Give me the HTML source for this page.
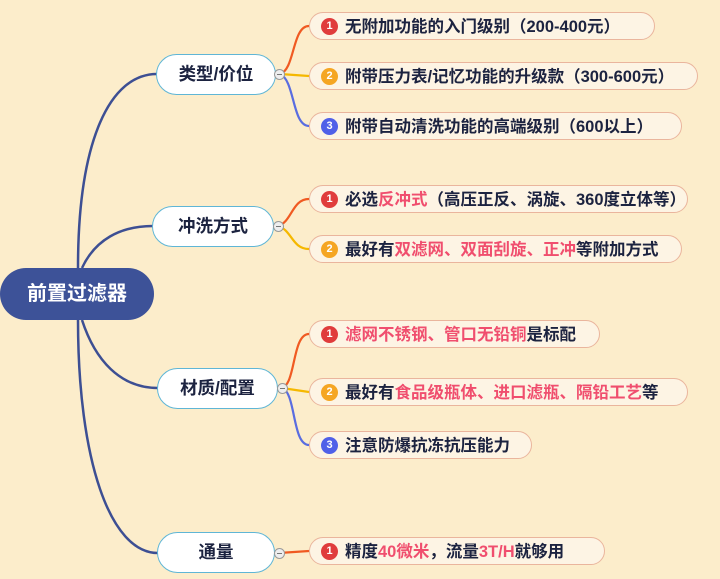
<!DOCTYPE html>
<html><head><meta charset="utf-8"><style>
body{margin:0;width:720px;height:579px;background:#fcedcb;position:relative;overflow:hidden;font-family:"Liberation Sans","Noto Sans CJK SC",sans-serif;}
.r{position:absolute;left:0;top:268px;width:154px;height:52px;background:#3d5298;border-radius:26px;color:#fff;font-size:20px;font-weight:bold;text-align:center;line-height:52px;}
.b{position:absolute;height:39px;border:1.5px solid #5fb6d6;background:#fff;border-radius:21px;color:#1c2340;font-size:17.5px;font-weight:bold;text-align:center;line-height:39px;}
.l{position:absolute;left:309px;height:28px;border:1.2px solid #eab59d;background:#fdf4e4;border-radius:14px;color:#1c2340;font-size:16.5px;font-weight:bold;line-height:28px;padding-left:35px;box-sizing:border-box;white-space:nowrap;}
.n{position:absolute;left:11px;top:5px;width:17px;height:17px;border-radius:50%;color:#fff;font-size:11px;line-height:17px;text-align:center;}
.c{position:absolute;width:9px;height:9px;border:1px solid #999;border-radius:50%;background:#eee;}
.c:after{content:"";position:absolute;left:2px;top:4px;width:5px;height:1px;background:#777;}
.p{color:#f04e6e}
</style></head><body>
<svg width="720" height="579" style="position:absolute;left:0;top:0">
<g fill="none" stroke="#3d4f93" stroke-width="2.5">
<path d="M78 268 C78 140 110 74 157 74"/>
<path d="M82 268 C95 240 120 226 153 226"/>
<path d="M82 320 C95 360 120 388 158 388"/>
<path d="M78 320 C78 460 110 553 158 553"/>
</g>
<g fill="none" stroke-width="2.2">
<path d="M280 74 C295 70 292 26 309 26" stroke="#f05a22"/>
<path d="M280 74 L309 76" stroke="#f5b800"/>
<path d="M280 74 C295 80 292 126 309 126" stroke="#5a6de0"/>
<path d="M278 226 C292 222 292 199 309 199" stroke="#f05a22"/>
<path d="M278 226 C292 230 292 249 309 249" stroke="#f5b800"/>
<path d="M282 388 C296 384 292 334 309 334" stroke="#f05a22"/>
<path d="M282 388 L309 392" stroke="#f5b800"/>
<path d="M282 388 C296 392 292 445 309 445" stroke="#5a6de0"/>
<path d="M279 553 L309 551" stroke="#f05a22"/>
</g>
</svg>
<div class="r">前置过滤器</div>
<div class="b" style="left:156px;top:54px;width:118px">类型/价位</div>
<div class="b" style="left:152px;top:206px;width:120px">冲洗方式</div>
<div class="b" style="left:157px;top:368px;width:119px">材质/配置</div>
<div class="b" style="left:157px;top:532px;width:116px">通量</div>
<div class="c" style="left:274px;top:69px"></div>
<div class="c" style="left:273px;top:221px"></div>
<div class="c" style="left:277px;top:383px"></div>
<div class="c" style="left:274px;top:548px"></div>

<div class="l" style="top:12px;width:346px"><span class="n" style="background:#e03c3c">1</span>无附加功能的入门级别（200-400元）</div>
<div class="l" style="top:62px;width:389px"><span class="n" style="background:#f5a623">2</span>附带压力表/记忆功能的升级款（300-600元）</div>
<div class="l" style="top:112px;width:373px"><span class="n" style="background:#5060e8">3</span>附带自动清洗功能的高端级别（600以上）</div>
<div class="l" style="top:185px;width:379px"><span class="n" style="background:#e03c3c">1</span>必选<span class="p">反冲式</span>（高压正反、涡旋、360度立体等）</div>
<div class="l" style="top:235px;width:373px"><span class="n" style="background:#f5a623">2</span>最好有<span class="p">双滤网、双面刮旋、正冲</span>等附加方式</div>
<div class="l" style="top:320px;width:291px"><span class="n" style="background:#e03c3c">1</span><span class="p">滤网不锈钢、管口无铅铜</span>是标配</div>
<div class="l" style="top:378px;width:379px"><span class="n" style="background:#f5a623">2</span>最好有<span class="p">食品级瓶体、进口滤瓶、隔铅工艺</span>等</div>
<div class="l" style="top:431px;width:223px"><span class="n" style="background:#5060e8">3</span>注意防爆抗冻抗压能力</div>
<div class="l" style="top:537px;width:296px"><span class="n" style="background:#e03c3c">1</span>精度<span class="p">40微米</span>，流量<span class="p">3T/H</span>就够用</div>
</body></html>
